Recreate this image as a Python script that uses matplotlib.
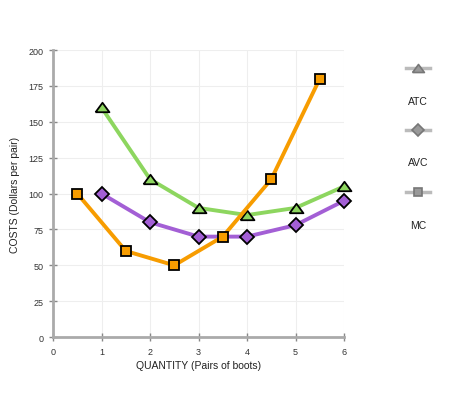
import matplotlib
matplotlib.use("Agg")
import matplotlib.pyplot as plt
from matplotlib.lines import Line2D

plt.rcParams['font.family'] = ['Liberation Sans', 'DejaVu Sans']

atc_x = [1, 2, 3, 4, 5, 6]
atc_y = [160, 110, 90, 85, 90, 105]
avc_x = [1, 2, 3, 4, 5, 6]
avc_y = [100, 80, 70, 70, 78, 95]
mc_x = [0.5, 1.5, 2.5, 3.5, 4.5, 5.5]
mc_y = [100, 60, 50, 70, 110, 180]
x_ticks = [0, 1, 2, 3, 4, 5, 6]
y_ticks = [0, 25, 50, 75, 100, 125, 150, 175, 200]
series_names = ["ATC", "AVC", "MC"]

tri = [(-1, -0.68), (1, -0.68), (0, 0.68), (-1, -0.68)]

fig = plt.figure(figsize=(4.63, 4.02), dpi=100)
ax = fig.add_axes([0.1145, 0.159, 0.6285, 0.714])

ax.plot(atc_x, atc_y, color='#8dd65f', lw=2.8, marker=tri, ms=10,
        mfc='#8dd65f', mec='black', mew=1.3, zorder=3, clip_on=False)
ax.plot(avc_x, avc_y, color='#a35fd5', lw=2.8, marker='D', ms=7.3,
        mfc='#a35fd5', mec='black', mew=1.3, zorder=3, clip_on=False)
ax.plot(mc_x, mc_y, color='#f79c00', lw=2.8, marker='s', ms=7.3,
        mfc='#f79c00', mec='black', mew=1.3, zorder=4, clip_on=False)

ax.set_xlim(0, 6)
ax.set_ylim(0, 200)
ax.set_xticks(x_ticks)
ax.set_yticks(y_ticks)
ax.grid(True, color='#eeeeee', lw=0.8, zorder=0)
for s in ['top', 'right']:
    ax.spines[s].set_visible(False)
for s in ['left', 'bottom']:
    ax.spines[s].set_color('#aaaaaa')
    ax.spines[s].set_linewidth(2)
ax.tick_params(direction='inout', length=6, width=1, color='#888888',
               labelsize=6.5, labelcolor='#333333', pad=4)
ax.set_xlabel("QUANTITY (Pairs of boots)", fontsize=7.5, color='#222222', labelpad=3)
ax.set_ylabel("COSTS (Dollars per pair)", fontsize=7.5, color='#222222', labelpad=6)
ax.set_axisbelow(True)

markers = [tri, 'D', 's']
msz = [8.5, 5.8, 5.8]
leg_marker_y = [69, 131, 193]
leg_label_y = [102, 163, 226]
W, H = 463, 402
cx = 418
for name, m, ms, my, ly in zip(series_names, markers, msz, leg_marker_y, leg_label_y):
    fig.add_artist(Line2D([(cx - 12) / W, (cx + 12) / W], [1 - my / H, 1 - my / H],
                          transform=fig.transFigure, color='#bbbbbb', lw=2.5))
    fig.add_artist(Line2D([cx / W], [1 - my / H], transform=fig.transFigure,
                          marker=m, ms=ms, mfc='#999999', mec='#777777', mew=1.2,
                          linestyle='none'))
    fig.text(cx / W, 1 - ly / H, name, ha='center', va='center', fontsize=7.5, color='#222222')

fig.savefig("out.png", dpi=100)
